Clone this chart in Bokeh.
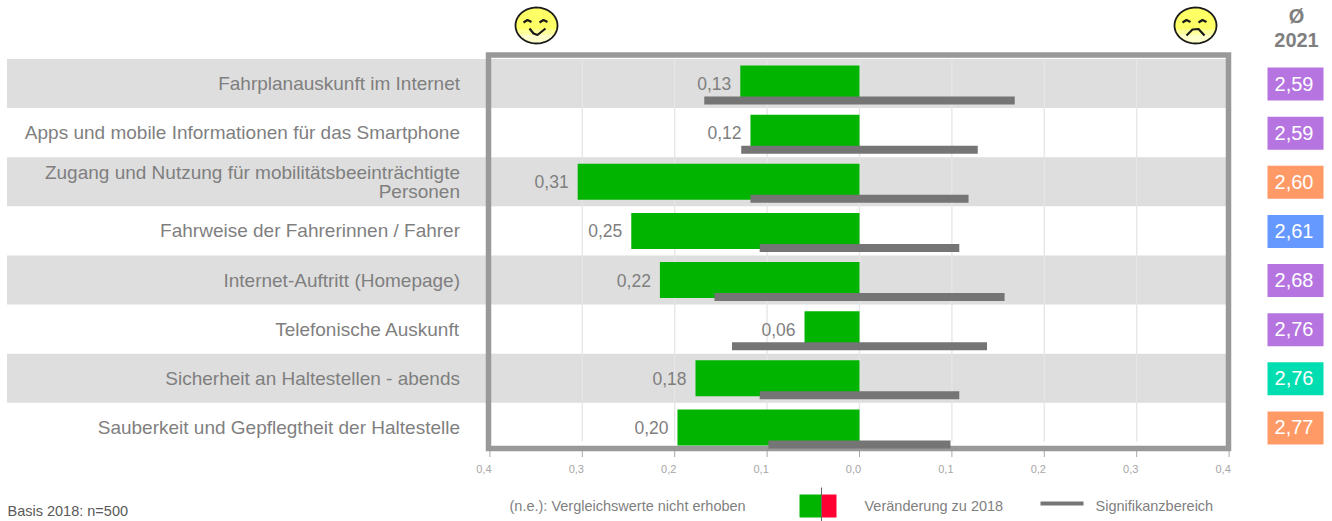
from bokeh.plotting import figure
from bokeh.models import Range1d, FixedTicker, LinearAxis
from bokeh.layouts import column
from bokeh.core.properties import value
from bokeh.embed import file_html
from bokeh.resources import INLINE
import numpy as np

categories = ["Fahrplanauskunft im Internet",
              "Apps und mobile Informationen für das Smartphone",
              "Zugang und Nutzung für mobilitätsbeeinträchtigte\nPersonen",
              "Fahrweise der Fahrerinnen / Fahrer",
              "Internet-Auftritt (Homepage)",
              "Telefonische Auskunft",
              "Sicherheit an Haltestellen - abends",
              "Sauberkeit und Gepflegtheit der Haltestelle"]
change_values = [0.129, 0.118, 0.305, 0.247, 0.216, 0.0595, 0.1775, 0.197]
change_labels = ["0,13", "0,12", "0,31", "0,25", "0,22", "0,06", "0,18", "0,20"]
significance = [0.168, 0.128, 0.118, 0.108, 0.157, 0.138, 0.108, 0.0985]
averages = ["2,59", "2,59", "2,60", "2,61", "2,68", "2,76", "2,76", "2,77"]
average_colors = ["#B574DF", "#B574DF", "#FF9966", "#6699FF", "#B574DF", "#B574DF", "#00DDB0", "#FF9966"]
tick_values = [-0.4, -0.3, -0.2, -0.1, 0.0, 0.1, 0.2, 0.3, 0.4]
tick_labels = ["0,4", "0,3", "0,2", "0,1", "0,0", "0,1", "0,2", "0,3", "0,4"]

PX = 924.0
ROW = 49.14
X0, Y0 = 859.0, 83.0
def X(px): return (np.asarray(px, dtype=float) - X0) / PX
def Y(py): return (np.asarray(py, dtype=float) - Y0) / ROW

GREY = "#7F7F7F"
FONT = value("Liberation Sans")
rows = np.arange(len(categories))
W = 1332

p = figure(width=W, height=484, output_backend="svg", toolbar_location=None,
           x_range=Range1d(float(X(0)), float(X(W))), y_range=Range1d(float(Y(457)), float(Y(0))),
           x_axis_location=None, y_axis_location=None,
           min_border_left=0, min_border_right=0, min_border_top=0, min_border_bottom=27,
           background_fill_color="white", border_fill_color=None, outline_line_color=None)
p.grid.visible = False

# tick labels sit a little left of their ticks in the reference
p.extra_x_ranges = {"labels": Range1d(float(X(0)) + 6 / PX, float(X(W)) + 6 / PX)}
ax2 = LinearAxis(x_range_name="labels", ticker=FixedTicker(ticks=tick_values),
                 major_label_overrides={t: l for t, l in zip(tick_values, tick_labels)},
                 axis_line_color=None, minor_tick_line_color=None, major_tick_line_color=None,
                 major_tick_in=0, major_tick_out=0,
                 major_label_text_color="#A6A6A6", major_label_text_font="Liberation Sans",
                 major_label_text_font_size="11px", major_label_standoff=7)
p.add_layout(ax2, "below")

# tick marks
p.segment(x0=tick_values, x1=tick_values, y0=[float(Y(450))] * 9, y1=[float(Y(456.5))] * 9,
          line_color="#A6A6A6", line_width=1)
# row bands
band_rows = rows[::2][:4]
p.hbar(y=band_rows, left=float(X(6.5)), right=float(X(1227)), height=49.0 / ROW, fill_color="#DEDEDE", line_color=None)
# grid
p.segment(x0=tick_values[1:-1], x1=tick_values[1:-1], y0=[float(Y(59))] * 7, y1=[float(Y(441))] * 7,
          line_color="#E6E6E6", line_width=1.3)
# frame
p.quad(left=float(X(488)), right=float(X(1228)), top=float(Y(54.5)), bottom=float(Y(448)), fill_color=None,
       line_color="#999999", line_width=5.5, line_join="miter")
# change bars
p.hbar(y=rows, left=[-v for v in change_values], right=0, height=36.0 / ROW,
       fill_color="#00B400", line_color=None)
# significance
p.hbar(y=rows + 17 / ROW, left=[-v for v in significance], right=significance, height=8.0 / ROW,
       fill_color="#757575", line_color=None)
# value labels
p.text(x=[-v - 9 / PX for v in change_values], y=rows, text=change_labels, text_align="right",
       text_baseline="middle", text_color=GREY, text_font=FONT, text_font_size="17.5px")
# category labels
p.text(x=[float(X(459.5))] * 8, y=rows, text=categories, text_align="right", text_baseline="middle",
       text_color=GREY, text_font=FONT, text_font_size="19px", text_line_height=0.92)
# averages
p.rect(x=[float(X(1295))] * 8, y=rows + 0.01, width=56 / PX, height=33 / ROW,
       fill_color=average_colors, line_color=None)
p.text(x=[float(X(1293.5))] * 8, y=rows, text=averages, text_align="center", text_baseline="middle",
       text_color="white", text_font=FONT, text_font_size="20px")
# header
p.text(x=[float(X(1296))] * 2, y=[float(Y(15.5)), float(Y(39.5))], text=["Ø", "2021"], text_align="center",
       text_baseline="middle", text_color=GREY, text_font=FONT, text_font_size="20px", text_font_style="bold")

# smileys
def face(cx, cy, happy):
    t = np.linspace(0, 2 * np.pi, 80)
    p.patch(X(cx + 21 * np.cos(t)), Y(cy + 18 * np.sin(t)), fill_color="#FFFF66", line_color=None)
    for lim, col in [(4, "#FFFF99"), (9, "#FFFFCC")]:
        tt = np.linspace(np.arcsin(lim / 18), np.pi - np.arcsin(lim / 18), 40)
        p.patch(X(cx + 21 * np.cos(tt)), Y(cy + 18 * np.sin(tt)), fill_color=col, line_color=None)
    p.line(X(cx + 21 * np.cos(t)), Y(cy + 18 * np.sin(t)), line_color="#1A1A1A", line_width=1.8)
    for ex in (-9, 7):
        p.line(X(cx + np.array([ex - 4, ex, ex + 4])), Y(cy + np.array([-3.0, -5.5, -3.5])),
               line_color="#1A1A1A", line_width=2.2)
    if happy:
        mx, my = [-7, -3, 1, 9], [3, 8, 9.5, 3]
    else:
        mx, my = [-9, -3, 3, 9], [10, 4, 3.5, 10]
    p.line(X(cx + np.array(mx)), Y(cy + np.array(my)), line_color="#1A1A1A", line_width=2.2)

face(536, 25, True)
face(1195, 25, False)

# footer strip with legend
q = figure(width=W, height=37, output_backend="svg", toolbar_location=None,
           x_range=p.x_range, y_range=Range1d(521, 484),
           x_axis_location=None, y_axis_location=None,
           min_border_left=0, min_border_right=0, min_border_top=0, min_border_bottom=0,
           border_fill_color=None, outline_line_color=None)
q.grid.visible = False

def label(px, py, text, color=GREY, size="14.5px"):
    q.text(x=[float(X(px))], y=[py], text=[text], text_color=color, text_font=FONT,
           text_font_size=size, text_align="left", text_baseline="middle")

label(7, 510.5, "Basis 2018: n=500", color="#595959")
label(509, 505.5, "(n.e.): Vergleichswerte nicht erhoben")
label(864, 505.5, "Veränderung zu 2018")
label(1095, 505.5, "Signifikanzbereich")
def box(l, r, t, b, color):
    q.quad(left=float(X(l)), right=float(X(r)), top=t, bottom=b, fill_color=color, line_color=None)
box(799, 821, 494, 517, "#00B400")
box(821, 836, 494, 517, "#FF0033")
box(820.5, 821.5, 487, 521, "#666666")
box(1040, 1083, 501, 505, "#757575")

layout = column(p, q, spacing=0)
open("out.html", "w").write(file_html(layout, INLINE))
